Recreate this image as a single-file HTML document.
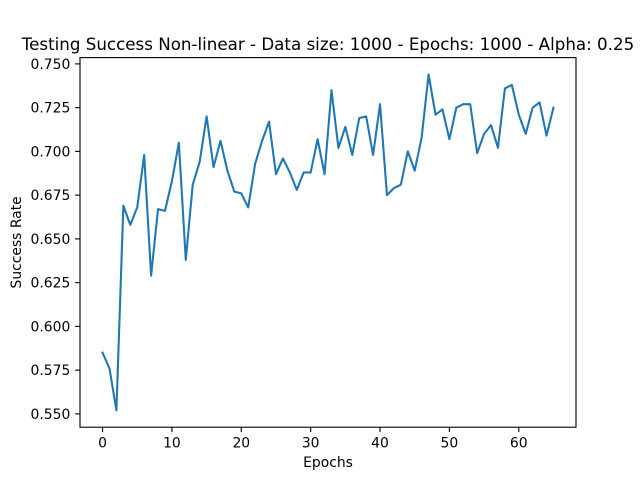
<!DOCTYPE html>
<html><head><meta charset="utf-8"><style>
body{margin:0;background:#fff;}
text{font-family:"DejaVu Sans","Liberation Sans",sans-serif;fill:#000;}
</style></head><body>
<svg id="chart" width="640" height="480" xmlns="http://www.w3.org/2000/svg">
<rect width="640" height="480" fill="#fff"/>
<text x="328" y="50" font-size="16.7" text-anchor="middle">Testing Success Non-linear - Data size: 1000 - Epochs: 1000 - Alpha: 0.25</text>
<g id="xt"></g>
<g id="yt"></g>
<path id="line" fill="none" stroke="#1f77b4" stroke-width="2.08" stroke-linejoin="round" stroke-linecap="square"/>
<rect x="80" y="57.6" width="496" height="369.6" fill="none" stroke="#000" stroke-width="1.1"/>
<text x="328" y="467" font-size="13.9" text-anchor="middle">Epochs</text>
<text transform="translate(21,242.4) rotate(-90)" font-size="13.9" text-anchor="middle">Success Rate</text>
</svg>
<script>
const successValues=[0.585,0.576,0.552,0.669,0.658,0.668,0.698,0.629,0.667,0.666,0.683,0.705,0.638,0.681,0.694,0.720,0.691,0.706,0.689,0.677,0.676,0.668,0.693,0.706,0.717,0.687,0.696,0.688,0.678,0.688,0.688,0.707,0.687,0.735,0.702,0.714,0.698,0.719,0.720,0.698,0.727,0.675,0.679,0.681,0.700,0.689,0.708,0.744,0.721,0.724,0.707,0.725,0.727,0.727,0.699,0.710,0.715,0.702,0.736,0.738,0.721,0.710,0.725,0.728,0.709,0.725];
const xTicks=[0,10,20,30,40,50,60];
const yTicks=[0.550,0.575,0.600,0.625,0.650,0.675,0.700,0.725,0.750];
const NS="http://www.w3.org/2000/svg";
const L=80,R=576,T=57.6,B=427.2;
const n=successValues.length-1;
const xmin=-0.05*n,xmax=n*1.05;
const vmin=Math.min(...successValues),vmax=Math.max(...successValues),pad=(vmax-vmin)*0.05;
const ymin=vmin-pad,ymax=vmax+pad;
const sx=v=>L+(v-xmin)/(xmax-xmin)*(R-L);
const sy=v=>B-(v-ymin)/(ymax-ymin)*(B-T);
function mk(tag,attrs,parent){const e=document.createElementNS(NS,tag);for(const k in attrs)e.setAttribute(k,attrs[k]);parent.appendChild(e);return e;}
const xt=document.getElementById('xt'),yt=document.getElementById('yt');
xTicks.forEach(t=>{const x=sx(t);
 const l=mk('line',{x1:x,x2:x,y1:B,y2:B+4.9,stroke:'#000','stroke-width':1.1},xt);
 
 
 const tx=mk('text',{x:x,y:B+20.5,'font-size':13.9,'text-anchor':'middle'},xt);tx.textContent=t;
 
 });
yTicks.forEach(t=>{const y=sy(t);
 const l=mk('line',{x1:L-4.9,x2:L,y1:y,y2:y,stroke:'#000','stroke-width':1.1},yt);
 
 
 const tx=mk('text',{x:L-9.7,y:y+5,'font-size':13.9,'text-anchor':'end'},yt);tx.textContent=t.toFixed(3);
 
 });
document.getElementById('line').setAttribute('d',successValues.map((v,i)=>(i?'L':'M')+sx(i).toFixed(2)+','+sy(v).toFixed(2)).join(''));
</script>
</body></html>
